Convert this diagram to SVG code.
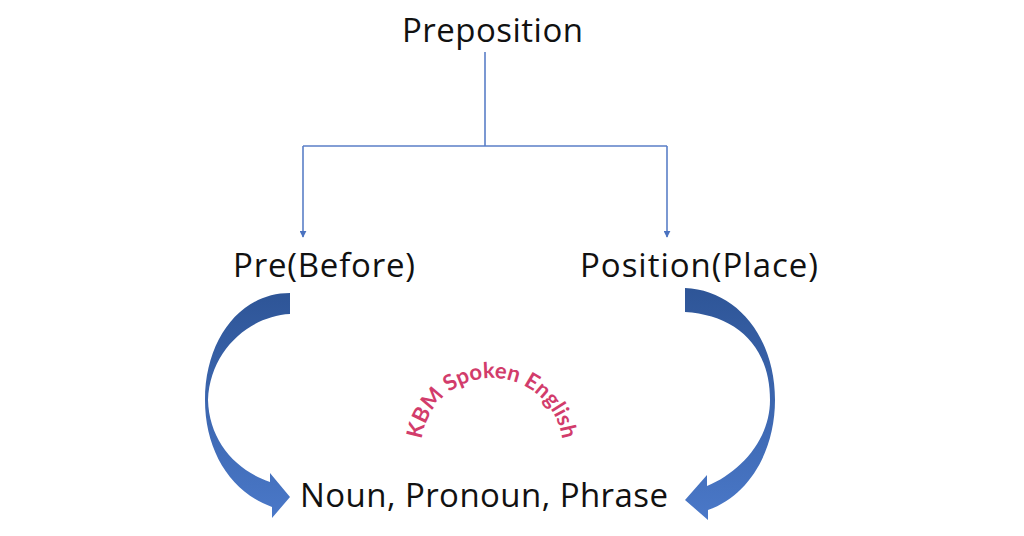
<svg xmlns="http://www.w3.org/2000/svg" width="1024" height="536" viewBox="0 0 1024 536">
<style>
.lbl{font-family:"Open Sans","Noto Sans",sans-serif;font-size:33px;fill:#111;}
.tree{fill:none;stroke:#5b7fc7;stroke-width:1.6;}
.wm{font-family:Lato,"Open Sans",sans-serif;font-weight:bold;font-size:22px;fill:#d23c6b;}
</style>
<defs>
<marker id="ah" viewBox="0 0 10 10" refX="9" refY="5" markerWidth="7" markerHeight="7" markerUnits="userSpaceOnUse" orient="auto">
<path d="M0,0 L10,5 L0,10 Z" fill="#4a72c0"/>
</marker>
<linearGradient id="gl" x1="0" y1="0" x2="0" y2="1">
<stop offset="0" stop-color="#2e5597"/>
<stop offset="1" stop-color="#4a78c8"/>
</linearGradient>
<path id="arc" d="M421 449 A71 71 0 0 1 563 449"/>
</defs>
<rect width="1024" height="536" fill="#fff"/>
<g id="connectors">
<path class="tree" d="M485 52 V146 M303 146 H667"/>
<path class="tree" d="M303 146 V237" marker-end="url(#ah)"/>
<path class="tree" d="M667 146 V237" marker-end="url(#ah)"/>
<path id="curve-left" fill="url(#gl)" d="M290 293 L290 314 C250 316 210 350 208 400 C209 440 235 470 270 482 L270 473 L290 497 L272 518 L272 507 C230 492 205 450 205 400 C205 340 240 293 290 293 Z"/>
<path id="curve-right" fill="url(#gl)" d="M685 288 C735 290 775 335 775 400 C775 450 750 495 708 510 L708 520 L685 500 L707 475 L707 486 C740 472 770 440 770 400 C770 345 735 315 685 312 Z"/>
</g>
<g id="node-preposition"><text class="lbl" x="402" y="42" textLength="181">Preposition</text></g>
<g id="node-pre"><text class="lbl" x="233" y="277" textLength="182">Pre(Before)</text></g>
<g id="node-position"><text class="lbl" x="580" y="277" textLength="238">Position(Place)</text></g>
<g id="node-noun"><text class="lbl" x="300" y="507" textLength="368">Noun, Pronoun, Phrase</text></g>
<g id="watermark"><text class="wm"><textPath href="#arc" startOffset="50%" text-anchor="middle">KBM Spoken English</textPath></text></g>
</svg>
